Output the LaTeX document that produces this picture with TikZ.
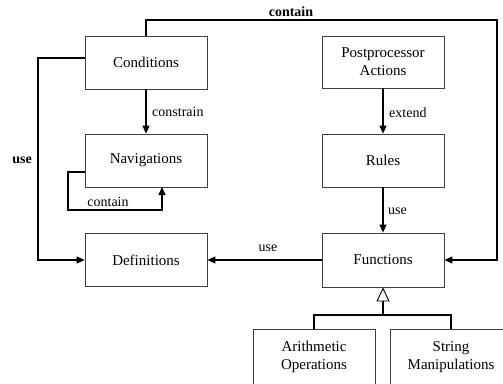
\documentclass[tikz,border=0pt]{standalone}
\usepackage{fontspec}
\setmainfont{Liberation Serif}
\usetikzlibrary{arrows.meta}
\begin{document}
\begin{tikzpicture}[x=1pt,y=-1pt,
  box/.style={draw=black!75, line width=0.8pt, minimum width=122pt, minimum height=53pt, inner sep=0pt, align=center, font=\fontsize{15}{18}\selectfont},
  conn/.style={line width=1.1pt, -{Triangle[length=8pt,width=7pt]}},
  plain/.style={line width=1.1pt},
  lbl/.style={font=\fontsize{14}{16}\selectfont, inner sep=0pt},
  blbl/.style={font=\fontsize{14}{16}\selectfont\bfseries, inner sep=0pt}]
\useasboundingbox (0,0) rectangle (503,383);
\clip (0,0) rectangle (503,383);
\node[box] (cond) at (146,62.5) {Conditions};
\node[box] (nav) at (146,160.5) {Navigations};
\node[box] (def) at (146,260) {Definitions};
\node[box, minimum height=52pt] (post) at (383,62) {Postprocessor\\Actions};
\node[box] (rules) at (383,160.5) {Rules};
\node[box, minimum height=54pt] (func) at (383,260) {Functions};
\node[box, minimum height=56pt] (arith) at (314,357) {Arithmetic\\Operations};
\node[box, minimum height=56pt] (str) at (451,357) {String\\Manipulations};

% constrain
\draw[conn] (cond.south) -- (nav.north);
\node[lbl, anchor=west] (lconstrain) at (152,112) {constrain};
% extend
\draw[conn] (post.south) -- (rules.north);
\node[lbl, anchor=west] (lextend) at (389,113) {extend};
% use rules->functions
\draw[conn] (rules.south) -- (func.north);
\node[lbl, anchor=west] (luse1) at (388,211) {use};
% use functions->definitions
\draw[conn] (func.west) -- (def.east);
\node[lbl] (luse2) at (268,248) {use};
% top contain
\coordinate (tr) at (497,20);
\draw[conn] (cond.north) |- (tr) |- (func.east);
\node[blbl] (lcontain1) at (291,12) {contain};
% left use
\coordinate (cl) at (85,58);
\coordinate (lc) at (38,58);
\draw[conn] (cl) -- (lc) |- (def.west);
\node[blbl] (luse3) at (22,160) {use};
% navigations self loop
\coordinate (nl) at (85,172);
\coordinate (nl2) at (68,210);
\coordinate (nb) at (162,187);
\draw[conn] (nl) -| (nl2) -| (nb);
\node[lbl] (lcontain2) at (108,202) {contain};
% inheritance
\coordinate (jn) at (383,315);
\draw[line width=1.1pt, -{Triangle[open,length=14pt,width=13pt,line width=0.9pt]}] (jn) -- (func.south);
\draw[plain] (arith.north) |- (jn) -| (str.north);
\end{tikzpicture}
\end{document}
